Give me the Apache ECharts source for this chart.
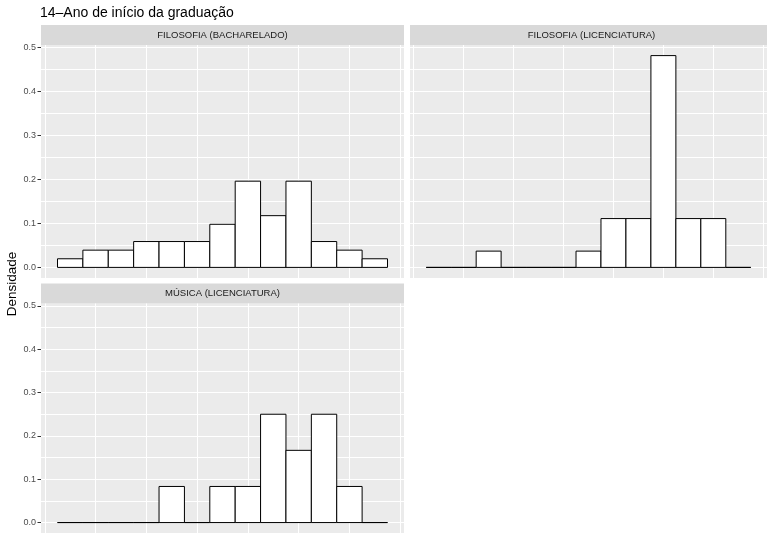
<!DOCTYPE html>
<html>
<head>
<meta charset="utf-8">
<script src="https://cdn.jsdelivr.net/npm/echarts@6/dist/echarts.min.js"></script>
<style>
  html, body { margin: 0; padding: 0; background: #fff; }
  #chart { width: 767px; height: 533px; }
</style>
</head>
<body>
<div id="chart"></div>
<script>
// facets
const panels = ['FILOSOFIA (BACHARELADO)', 'FILOSOFIA (LICENCIATURA)', 'MÚSICA (LICENCIATURA)'];
// left edge of each of the 13 bins (width 1)
const binStarts = [0, 1, 2, 3, 4, 5, 6, 7, 8, 9, 10, 11, 12];
// densities, one per bin
const densBacharelado = [0.0196, 0.0392, 0.0392, 0.0588, 0.0588, 0.0588, 0.098, 0.196, 0.1176, 0.196, 0.0588, 0.0392, 0.0196];
const densLicFilosofia = [0, 0, 0.037, 0, 0, 0, 0.037, 0.111, 0.111, 0.4815, 0.111, 0.111, 0];
const densMusica = [0, 0, 0, 0, 0.0833, 0, 0.0833, 0.0833, 0.25, 0.1667, 0.25, 0.0833, 0];
const panelData = [densBacharelado, densLicFilosofia, densMusica];

const yTicks = [0, 0.1, 0.2, 0.3, 0.4, 0.5];
const yGridLines = [0, 0.05, 0.1, 0.15, 0.2, 0.25, 0.3, 0.35, 0.4, 0.45, 0.5];
const xGridLines = [-0.5, 1.5, 3.5, 5.5, 7.5, 9.5, 11.5, 13.5];

const FONT = 'Liberation Sans, Arial, sans-serif';
const Y_MIN = -0.0241, Y_MAX = 0.5056;
const X_MIN = -0.65, X_MAX = 13.65;

const layout = [
    { left: 41, top: 45, width: 363, height: 233 },
    { left: 410, top: 45, width: 363, height: 233 },
    { left: 41, top: 303.5, width: 363, height: 231 }
];

let grids = [], xAxes = [], yAxes = [], series = [], graphics = [];

layout.forEach(function (g, i) {
    grids.push({
        left: g.left, top: g.top, width: g.width, height: g.height,
        show: true, backgroundColor: '#ebebeb', borderWidth: 0
    });
    xAxes.push({
        gridIndex: i, type: 'value', min: X_MIN, max: X_MAX,
        axisLine: { show: false, onZero: false },
        axisTick: { show: false, customValues: xGridLines },
        axisLabel: { show: false, customValues: xGridLines },
        splitLine: { show: true, customValues: xGridLines, lineStyle: { color: '#ffffff', width: 1.1 } }
    });
    // visible ticks and labels
    yAxes.push({
        gridIndex: i, type: 'value', min: Y_MIN, max: Y_MAX, position: 'left',
        axisLine: { show: false, onZero: false },
        axisTick: { show: i !== 1, length: 3.5, customValues: yTicks, lineStyle: { color: '#333333', width: 1 } },
        axisLabel: {
            show: i !== 1, customValues: yTicks, margin: 5,
            color: '#4d4d4d', fontSize: 9, fontFamily: FONT,
            formatter: function (v) { return v.toFixed(1); }
        },
        splitLine: { show: false }
    });
    // background grid lines
    yAxes.push({
        gridIndex: i, type: 'value', min: Y_MIN, max: Y_MAX, position: 'right',
        axisLine: { show: false, onZero: false },
        axisTick: { show: false, customValues: yGridLines },
        axisLabel: { show: false, customValues: yGridLines },
        splitLine: { show: true, customValues: yGridLines, lineStyle: { color: '#ffffff', width: 1.1 } }
    });

    series.push({
        type: 'custom',
        name: panels[i],
        xAxisIndex: i,
        yAxisIndex: i * 2,
        data: binStarts.map(function (b, k) { return [b, panelData[i][k]]; }),
        renderItem: function (params, api) {
            const x0 = api.value(0);
            const p0 = api.coord([x0, api.value(1)]);
            const p1 = api.coord([x0 + 1, 0]);
            return {
                type: 'rect',
                shape: { x: p0[0], y: p0[1], width: p1[0] - p0[0], height: p1[1] - p0[1] },
                style: { fill: '#ffffff', stroke: '#000000', lineWidth: 1 }
            };
        },
        silent: true,
        z: 3
    });

    // facet strip
    graphics.push({
        type: 'rect',
        shape: { x: g.left, y: g.top - 20, width: g.width, height: 20 },
        style: { fill: '#d9d9d9' },
        silent: true
    });
    graphics.push({
        type: 'text',
        x: g.left + g.width / 2,
        y: g.top - 10,
        style: {
            text: panels[i], fill: '#1a1a1a', fontSize: 9.5, fontFamily: FONT,
            align: 'center', verticalAlign: 'middle'
        },
        silent: true
    });
});

graphics.push({
    type: 'text',
    x: 12, y: 284,
    rotation: Math.PI / 2,
    style: {
        text: 'Densidade', fill: '#000000', fontSize: 13.5, fontFamily: FONT,
        align: 'center', verticalAlign: 'middle'
    },
    silent: true
});

let option = {
    animation: false,
    backgroundColor: '#ffffff',
    title: {
        text: '14–Ano de início da graduação',
        left: 35,
        top: 1,
        textStyle: { fontSize: 14, fontWeight: 'normal', color: '#000000', fontFamily: FONT }
    },
    grid: grids,
    xAxis: xAxes,
    yAxis: yAxes,
    series: series,
    graphic: graphics
};

let myChart = echarts.init(document.getElementById('chart'));
myChart.setOption(option);
</script>
</body>
</html>
